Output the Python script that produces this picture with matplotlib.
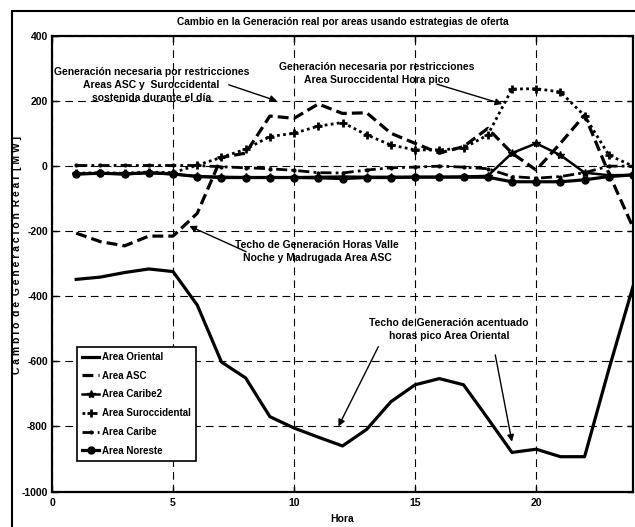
import matplotlib
matplotlib.use("Agg")
import matplotlib.pyplot as plt
from matplotlib.patches import Rectangle

plt.rcParams['font.family'] = ['Liberation Sans', 'DejaVu Sans']
plt.rcParams['font.weight'] = 'bold'
plt.rcParams['axes.unicode_minus'] = False

hours = list(range(1, 25))
oriental = [-348, -341, -327, -316, -324, -427, -602, -651, -770, -805, -833, -860,
            -809, -724, -672, -653, -672, -775, -880, -870, -893, -893, -625, -370]
asc = [-206, -232, -245, -215, -215, -145, 27, 40, 154, 147, 191, 162,
       164, 101, 70, 40, 60, 116, 40, -12, 70, 157, -22, -188]
caribe2 = [-25, -22, -25, -21, -25, -31, -33, -34, -34, -34, -33, -32,
           -33, -33, -33, -33, -32, -30, 40, 70, 34, -20, -28, -27]
surocc = [-22, -20, -22, -18, -20, 3, 27, 52, 91, 101, 123, 134,
          96, 65, 50, 50, 55, 96, 237, 238, 228, 155, 34, 0]
caribe = [2, 2, 2, 2, 2, 2, -2, -5, -8, -13, -20, -21,
          -12, -5, -3, 0, -3, -8, -32, -37, -32, -20, 0, 0]
noreste = [-24, -22, -24, -20, -24, -32, -35, -35, -35, -35, -36, -38,
           -35, -35, -34, -34, -34, -34, -48, -48, -48, -42, -32, -27]

labels = ['Area Oriental', 'Area ASC', 'Area Caribe2', 'Area Suroccidental',
          'Area Caribe', 'Area Noreste']
xticks = [0, 5, 10, 15, 20]
yticks = [-1000, -800, -600, -400, -200, 0, 200, 400]

fig = plt.figure(figsize=(6.35, 5.27), dpi=100)
ax = fig.add_axes([52/635, 1-491.5/527, (633-52)/635, (491.5-36)/527])

# outer frame
fig.patches.append(Rectangle((12/635, -0.05), 1.0, 1-11/527+0.05, transform=fig.transFigure,
                             fill=False, edgecolor='black', linewidth=1.5))

k = 'black'
ax.plot(hours, oriental, color=k, lw=2.3, ls='-', label=labels[0], zorder=5)
ax.plot(hours, asc, color=k, lw=2.3, ls=(0, (3.4, 1.6)), label=labels[1], zorder=5)
ax.plot(hours, caribe2, color=k, lw=1.8, ls='-', marker='*', ms=6, label=labels[2], zorder=4)
ax.plot(hours, surocc, color=k, lw=2.0, ls=(0, (1, 1.2)), marker='+', ms=6, mew=2,
        label=labels[3], zorder=4)
ax.plot(hours, caribe, color=k, lw=2.0, ls=(0, (4, 1.5, 1, 1.5)), marker='.', ms=4,
        label=labels[4], zorder=4)
ax.plot(hours, noreste, color=k, lw=2.3, ls='-', marker='o', ms=5, label=labels[5], zorder=6)

ax.set_xlim(0, 24)
ax.set_ylim(-1000, 400)
ax.set_xticks(xticks)
ax.set_yticks(yticks)
ax.grid(True, color='black', lw=0.8, ls=(0, (7, 4.5)))
ax.tick_params(direction='in', top=True, right=True, length=4, width=1, labelsize=7.5, pad=3)
ax.tick_params(axis='x', pad=5)
for lab in ax.get_xticklabels() + ax.get_yticklabels():
    lab.set_fontweight('bold')
for s in ax.spines.values():
    s.set_linewidth(1.6)

ax.set_title('Cambio en la Generación real por areas usando estrategias de oferta',
             fontsize=7.3, fontweight='bold', pad=8)
ax.set_xlabel('Hora', fontsize=7.5, fontweight='bold', labelpad=4)
ax.set_ylabel('C a m b i o  d e  G e n e r a c i ó n  R e a l  [ M W ]',
              fontsize=7.5, fontweight='bold')
ax.yaxis.set_label_coords(-0.052, 0.52)

ann = dict(fontsize=7.5, fontweight='bold', ha='center', va='center', linespacing=1.35)
ax.text(4.1, 250, 'Generación necesaria por restricciones\nAreas ASC y  Suroccidental\nsostenida durante el día', **ann)
ax.text(13.4, 285, 'Generación necesaria por restricciones\nArea Suroccidental Hora pico', **ann)
ax.text(10.95, -262, 'Techo de Generación Horas Valle\nNoche y Madrugada Area ASC', **ann)
ax.text(16.4, -503, 'Techo de Generación acentuado\nhoras pico Area Oriental', **ann)

ap = dict(arrowstyle='-|>', color='black', lw=1.0, mutation_scale=10, shrinkA=0, shrinkB=0)
ax.annotate('', xy=(9.3, 200), xytext=(7.3, 250), arrowprops=ap)
ax.annotate('', xy=(18.6, 191), xytext=(15.9, 252), arrowprops=ap)
ax.annotate('', xy=(5.67, -184), xytext=(8.02, -263), arrowprops=ap)
ax.annotate('', xy=(11.83, -800), xytext=(13.48, -555), arrowprops=ap)
ax.annotate('', xy=(19.0, -847), xytext=(18.31, -580), arrowprops=ap)

leg = ax.legend(loc='lower left', bbox_to_anchor=(0.043, 0.068), fontsize=7,
                frameon=True, fancybox=False, edgecolor='black', framealpha=1,
                handlelength=1.8, handletextpad=0.3, borderpad=0.5, labelspacing=0.9,
                borderaxespad=0)
leg.get_frame().set_linewidth(1.2)
for t in leg.get_texts():
    t.set_fontweight('bold')

fig.savefig('out.png', dpi=100)
